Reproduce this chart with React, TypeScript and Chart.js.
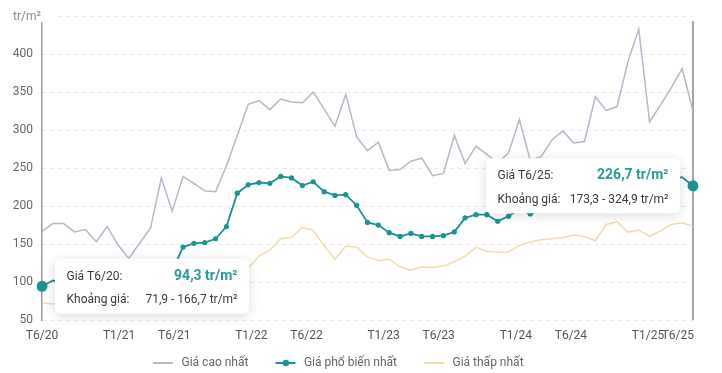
import React, { useEffect, useRef } from "react";
import { Chart, registerables } from "chart.js";

Chart.register(...registerables);

const months: string[] = [
  "T6/20", "T7/20", "T8/20", "T9/20", "T10/20", "T11/20", "T12/20",
  "T1/21", "T2/21", "T3/21", "T4/21", "T5/21", "T6/21", "T7/21", "T8/21", "T9/21", "T10/21", "T11/21", "T12/21",
  "T1/22", "T2/22", "T3/22", "T4/22", "T5/22", "T6/22", "T7/22", "T8/22", "T9/22", "T10/22", "T11/22", "T12/22",
  "T1/23", "T2/23", "T3/23", "T4/23", "T5/23", "T6/23", "T7/23", "T8/23", "T9/23", "T10/23", "T11/23", "T12/23",
  "T1/24", "T2/24", "T3/24", "T4/24", "T5/24", "T6/24", "T7/24", "T8/24", "T9/24", "T10/24", "T11/24", "T12/24",
  "T1/25", "T2/25", "T3/25", "T4/25", "T5/25", "T6/25",
];

const maxPrice: number[] = [
  166.7, 177, 177, 166, 169, 153, 173, 149, 131, 151, 171, 237, 193, 239, 230, 220, 219, 253, 293, 334,
  339, 327, 341, 337, 336, 350, 328, 305, 347, 291, 273, 284, 247, 248, 259, 263, 240, 243, 293, 256,
  279, 268, 257, 270, 314, 260, 265, 287, 299, 283, 285, 344, 326, 331, 390, 433, 311, 333, 356, 381,
  324.9,
];

const commonPrice: number[] = [
  94.3, 102, 99, 101, 104, 103, 106, 108, 107, 110, 112, 113, 115, 146, 151, 152, 157, 173, 217, 228,
  231, 230, 239, 237, 227, 232, 219, 214, 215, 201, 178.5, 175, 165, 160, 164, 160, 160, 161, 166, 184.5,
  188.7, 188.7, 180, 186.7, 196, 189.6, 195, 199, 204, 201, 207, 212, 209, 216, 222, 219, 226, 231, 235, 238,
  226.7,
];

const minPrice: number[] = [
  71.9, 71.5, 72, 71, 73, 74, 73, 76, 78, 80, 83, 88, 92, 97, 101, 105, 108, 112, 115, 118.5,
  134, 142, 157, 159, 172, 168, 148, 130, 147, 146, 133, 128, 130, 120, 115.5, 120, 119, 121, 126.7, 134,
  145.7, 140.5, 139.2, 139.6, 148, 152.5, 155.6, 157, 158.6, 162, 160, 154.3, 175.8, 179.3, 165.5, 168.6, 160, 167.3, 175.8, 178,
  173.3,
];

const axisTickLabels: string[] = ["T6/20", "T1/21", "T6/21", "T1/22", "T6/22", "T1/23", "T6/23", "T1/24", "T6/24", "T1/25", "T6/25"];
const axisTickMonths: number[] = [0, 7, 12, 19, 24, 31, 36, 43, 48, 55, 60];

const seriesNames: string[] = ["Giá cao nhất", "Giá phổ biến nhất", "Giá thấp nhất"];
const unitLabel = "tr/m²";

const COLOR_MAX = "#bdb3cc";
const COLOR_COMMON = "#1a9393";
const COLOR_COMMON_TEXT = "#2a9b98";
const COLOR_MIN = "#f1dba8";
const FONT = "Roboto";

const fmt = (v: number) => v.toFixed(1).replace(".", ",");

function roundRectPath(ctx: CanvasRenderingContext2D, x: number, y: number, w: number, h: number, r: number) {
  ctx.beginPath();
  ctx.moveTo(x + r, y);
  ctx.lineTo(x + w - r, y);
  ctx.quadraticCurveTo(x + w, y, x + w, y + r);
  ctx.lineTo(x + w, y + h - r);
  ctx.quadraticCurveTo(x + w, y + h, x + w - r, y + h);
  ctx.lineTo(x + r, y + h);
  ctx.quadraticCurveTo(x, y + h, x, y + h - r);
  ctx.lineTo(x, y + r);
  ctx.quadraticCurveTo(x, y, x + r, y);
  ctx.closePath();
}

const overlayPlugin = {
  id: "overlay",
  beforeDatasetsDraw(chart: any) {
    const { ctx, chartArea } = chart;
    const meta = chart.getDatasetMeta(1);
    const last = meta.data[meta.data.length - 1];
    ctx.save();
    ctx.strokeStyle = "#8e8e8e";
    ctx.lineWidth = 1.6;
    ctx.beginPath();
    ctx.moveTo(last.x, chartArea.top + 5);
    ctx.lineTo(last.x, chartArea.bottom);
    ctx.stroke();
    ctx.restore();
  },
  afterDraw(chart: any) {
    const { ctx, chartArea, scales } = chart;
    const meta = chart.getDatasetMeta(1);

    const drawTip = (idx: number, side: "right" | "left") => {
      const pt = meta.data[idx];
      const w = 194;
      const h = 55;
      const left = side === "right" ? pt.x + 13 : pt.x - 13 - w;
      const top = pt.y - h / 2;
      ctx.save();
      ctx.shadowColor = "rgba(0,0,0,0.14)";
      ctx.shadowBlur = 12;
      ctx.shadowOffsetY = 2;
      ctx.fillStyle = "#ffffff";
      roundRectPath(ctx, left, top, w, h, 6);
      ctx.fill();
      ctx.restore();

      ctx.save();
      ctx.textBaseline = "middle";
      ctx.fillStyle = "#3a3a3a";
      ctx.font = `12px ${FONT}`;
      ctx.textAlign = "left";
      ctx.fillText(`Giá ${months[idx]}:`, left + 11.5, top + 18);
      ctx.fillText("Khoảng giá:", left + 11.5, top + 41.5);
      ctx.textAlign = "right";
      ctx.fillText(`${fmt(minPrice[idx])} - ${fmt(maxPrice[idx])} ${unitLabel}`, left + w - 11.5, top + 41.5);
      ctx.fillStyle = COLOR_COMMON_TEXT;
      ctx.font = `bold 14px ${FONT}`;
      ctx.fillText(`${fmt(commonPrice[idx])} ${unitLabel}`, left + w - 11.5, top + 17.5);
      ctx.restore();
    };

    drawTip(0, "right");
    drawTip(commonPrice.length - 1, "left");

    // x-axis labels
    const xl = scales.xl;
    ctx.save();
    ctx.font = `12px ${FONT}`;
    ctx.fillStyle = "#555";
    ctx.textBaseline = "middle";
    axisTickLabels.forEach((lab, i) => {
      let x = xl.getPixelForValue(axisTickMonths[i]);
      ctx.textAlign = "center";
      if (x > chartArea.right) {
        x = chartArea.right + 1;
        ctx.textAlign = "right";
      }
      ctx.fillText(lab, x, chartArea.bottom + 16);
    });
    ctx.restore();

    // unit title on y axis
    const y = scales.y;
    const ty = y.getPixelForValue(450);
    ctx.save();
    ctx.fillStyle = "#fff";
    ctx.fillRect(0, ty - 6, 53, 12);
    ctx.font = `12px ${FONT}`;
    ctx.fillStyle = "#888";
    ctx.textAlign = "left";
    ctx.textBaseline = "middle";
    ctx.fillText(unitLabel, 13, ty + 1);
    ctx.restore();

    // legend
    const colors = [COLOR_MAX, COLOR_COMMON, COLOR_MIN];
    ctx.save();
    ctx.font = `12px ${FONT}`;
    ctx.textBaseline = "middle";
    ctx.textAlign = "left";
    let lx = 153;
    const ly = 363;
    seriesNames.forEach((name, i) => {
      ctx.strokeStyle = colors[i];
      ctx.lineWidth = 2;
      ctx.beginPath();
      ctx.moveTo(lx, ly);
      ctx.lineTo(lx + 20, ly);
      ctx.stroke();
      if (i === 1) {
        ctx.fillStyle = colors[i];
        ctx.beginPath();
        ctx.arc(lx + 10.5, ly, 3.2, 0, Math.PI * 2);
        ctx.fill();
      }
      ctx.fillStyle = "#666";
      ctx.fillText(name, lx + 28.5, ly);
      lx += 28.5 + ctx.measureText(name).width + 27;
    });
    ctx.restore();
  },
};

export default function App() {
  const canvasRef = useRef<HTMLCanvasElement | null>(null);

  useEffect(() => {
    if (!canvasRef.current) return;
    Chart.defaults.font.family = FONT;
    const lastIdx = commonPrice.length - 1;
    const chart = new Chart(canvasRef.current, {
      type: "line",
      data: {
        labels: months,
        datasets: [
          {
            label: seriesNames[0],
            data: maxPrice,
            borderColor: COLOR_MAX,
            borderWidth: 1.5,
            pointRadius: 0,
            tension: 0,
            order: 2,
            xAxisID: "x",
            yAxisID: "y",
          },
          {
            label: seriesNames[1],
            data: commonPrice,
            borderColor: COLOR_COMMON,
            backgroundColor: COLOR_COMMON,
            borderWidth: 1.8,
            pointRadius: (c: any) => {
              const i = c.dataIndex;
              if (i === 0 || i === lastIdx) return 5.5;
              if (i === 1 || i === lastIdx - 1) return 0;
              return 2.6;
            },
            pointBorderWidth: 0,
            pointBackgroundColor: COLOR_COMMON,
            tension: 0,
            order: 0,
            xAxisID: "x",
            yAxisID: "y",
          },
          {
            label: seriesNames[2],
            data: minPrice,
            borderColor: COLOR_MIN,
            borderWidth: 1.5,
            pointRadius: 0,
            tension: 0,
            order: 1,
            xAxisID: "x",
            yAxisID: "y",
          },
        ],
      },
      options: {
        animation: false,
        responsive: false,
        maintainAspectRatio: false,
        layout: { padding: { left: 0, right: 29, top: 10.5, bottom: 0 } },
        plugins: { legend: { display: false }, tooltip: { enabled: false } },
        events: [],
        scales: {
          x: {
            type: "category",
            position: "bottom",
            grid: { display: false },
            border: { display: false },
            ticks: { display: false },
            afterFit: (s: any) => {
              s.height = 53;
            },
          },
          xl: {
            type: "linear",
            axis: "x",
            position: "bottom",
            display: false,
            min: 0,
            max: 59.08,
          },
          y: {
            min: 50,
            max: 450,
            ticks: {
              stepSize: 50,
              padding: 9,
              color: "#666",
              font: { size: 12, family: FONT },
              callback: (v: any) => (Number(v) === 450 ? "" : String(v)),
            },
            grid: { color: "#e8e8e8", lineWidth: 1, drawTicks: false },
            border: { display: true, color: "#9a9a9a", width: 1.5, dash: [4, 4] },
            afterFit: (s: any) => {
              s.width = 42;
            },
          },
        },
      },
      plugins: [overlayPlugin],
    } as any);
    return () => chart.destroy();
  }, []);

  return (
    <div style={{ position: "absolute", left: 0, top: 0, width: 722, height: 373, background: "#fff" }}>
      <canvas ref={canvasRef} width={722} height={373} style={{ width: 722, height: 373, display: "block" }} />
    </div>
  );
}
